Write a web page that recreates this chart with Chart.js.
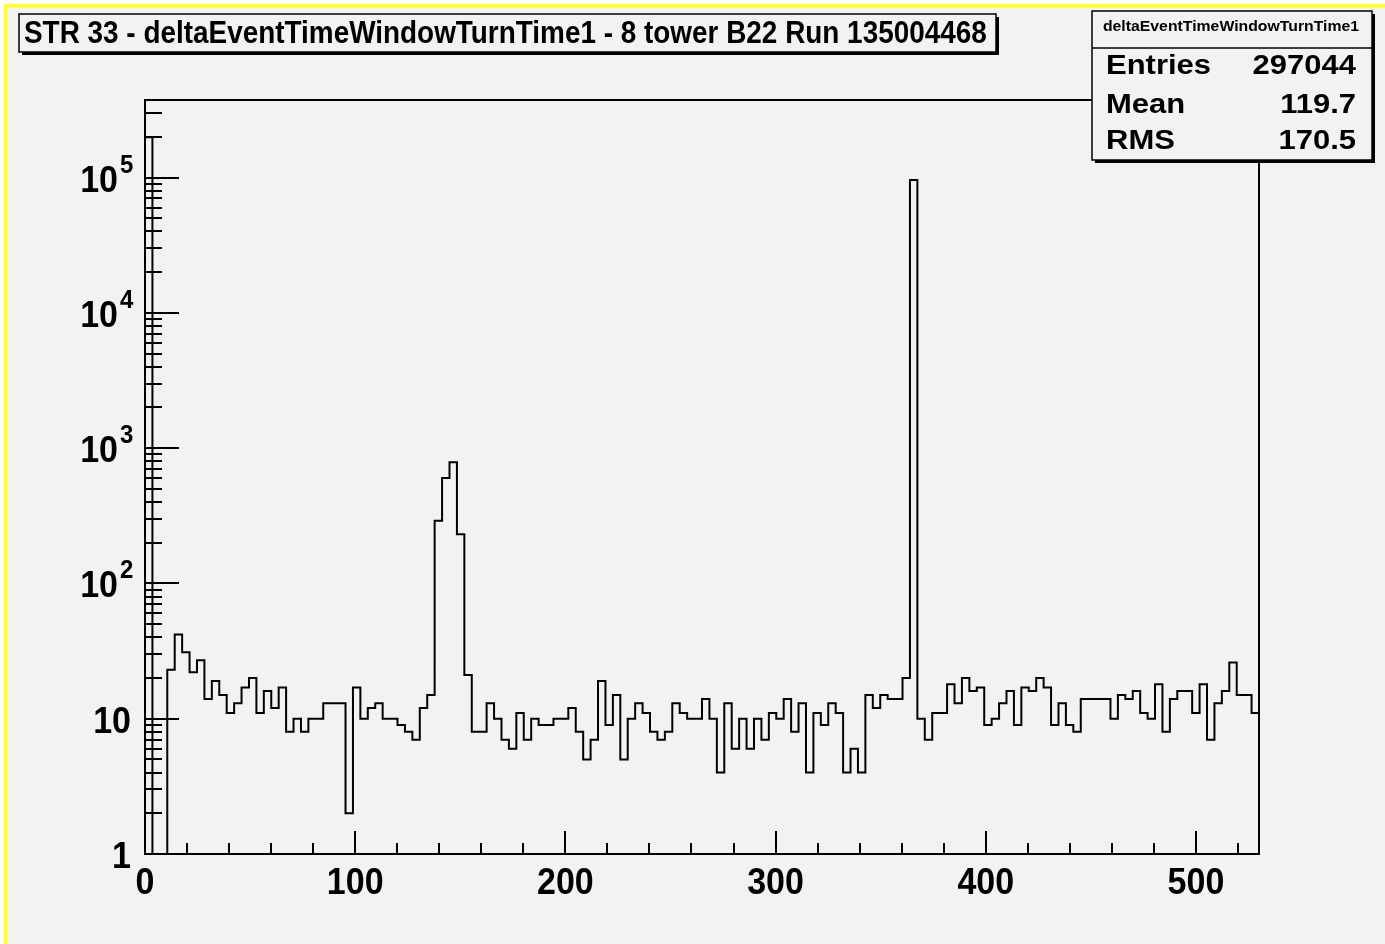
<!DOCTYPE html>
<html>
<head>
<meta charset="utf-8">
<style>
    html, body { margin: 0; padding: 0; background: #ffffff; }
    canvas { display: block; }
</style>
</head>
<body>
<canvas id="histo" width="1385" height="944"></canvas>

<script src="https://cdn.jsdelivr.net/npm/chart.js@4.4.0/dist/chart.umd.min.js"></script>
<script>
    // histogram data (150 bins from 0 to 530), counts
    const histName = 'deltaEventTimeWindowTurnTime1';
    const titleText = 'STR 33 - deltaEventTimeWindowTurnTime1 - 8 tower B22 Run 135004468';
    const xRange = [0, 530];
    const counts = [
        198000, 0, 0, 23, 42, 31, 22, 27, 14, 19,
        15, 11, 13, 17, 20, 11, 16, 12, 17, 8,
        10, 8, 10, 10, 13, 13, 13, 2, 17, 10,
        12, 13, 10, 10, 9, 8, 7, 12, 15, 290,
        600, 785, 231, 21, 8, 8, 13, 10, 7, 6,
        11, 7, 10, 9, 9, 10, 10, 12, 8, 5,
        7, 19, 9, 15, 5, 10, 13, 11, 8, 7,
        8, 13, 11, 10, 10, 14, 10, 4, 13, 6,
        10, 6, 10, 7, 11, 10, 14, 8, 13, 4,
        11, 9, 13, 11, 4, 6, 4, 15, 12, 15,
        14, 14, 20, 96000, 10, 7, 11, 11, 18, 13,
        20, 16, 17, 9, 10, 13, 16, 9, 17, 16,
        20, 17, 9, 13, 9, 8, 14, 14, 14, 14,
        10, 15, 14, 16, 11, 10, 18, 8, 14, 16,
        16, 11, 18, 7, 13, 16, 26, 15, 15, 11
    ];
    const yRange = [1, 3.74e5];
    const xMajorTicks = [0, 100, 200, 300, 400, 500];
    const yDecades = [1, 10, 100, 1000, 10000, 100000];
    const statLabels = ['Entries', 'Mean', 'RMS'];
    const statValues = ['297044', '119.7', '170.5'];

    const binWidth = (xRange[1] - xRange[0]) / counts.length;

    // left bin edges + closing point; empty bins sit on the axis floor like ROOT does
    const points = counts.map((c, i) => ({ x: xRange[0] + i * binWidth, y: c > 0 ? c : yRange[0] }));
    points.push({ x: xRange[1], y: counts[counts.length - 1] > 0 ? counts[counts.length - 1] : yRange[0] });

    const BG = '#f2f2f2';

    // text drawn with a small stretch, the original renders fonts a bit tall
    const drawText = (ctx, txt, x, y, font, align, sx, sy) => {
        ctx.save();
        ctx.translate(x, y);
        ctx.scale(sx, sy);
        ctx.font = font;
        ctx.textAlign = align;
        ctx.textBaseline = 'alphabetic';
        ctx.fillStyle = '#000';
        ctx.fillText(txt, 0, 0);
        ctx.restore();
    };

    const drawPave = (ctx, x, y, w, h) => {
        ctx.fillStyle = '#000';
        ctx.fillRect(x + 3, y + 3, w, h);
        ctx.fillStyle = BG;
        ctx.fillRect(x, y, w, h);
        ctx.strokeStyle = '#000';
        ctx.lineWidth = 1.5;
        ctx.strokeRect(x, y, w, h);
    };

    const rootFrame = {
        id: 'rootFrame',
        beforeDraw(chart) {
            const ctx = chart.ctx;
            ctx.save();
            ctx.fillStyle = '#ffffff';
            ctx.fillRect(0, 0, chart.width, chart.height);
            ctx.fillStyle = '#ffff33';
            ctx.fillRect(4, 4, chart.width - 4, 3);
            ctx.fillRect(4, 4, 3, chart.height - 4);
            ctx.fillStyle = BG;
            ctx.fillRect(7, 7, chart.width - 7, chart.height - 7);
            ctx.restore();
        },
        afterDraw(chart) {
            const ctx = chart.ctx;
            const area = chart.chartArea;
            const xs = chart.scales.x;
            const ys = chart.scales.y;
            ctx.save();

            // frame
            ctx.strokeStyle = '#000';
            ctx.lineWidth = 2;
            ctx.strokeRect(area.left, area.top, area.right - area.left, area.bottom - area.top);

            // x ticks, pointing into the frame
            ctx.lineWidth = 2;
            ctx.beginPath();
            for (let v = xRange[0]; v <= xRange[1]; v += 20) {
                const px = Math.round(xs.getPixelForValue(v));
                const len = (v % 100 === 0) ? 23 : 11;
                ctx.moveTo(px, area.bottom);
                ctx.lineTo(px, area.bottom - len);
            }
            // y ticks, log decades with 2..9 minors
            for (const d of yDecades) {
                for (let k = 1; k <= 9; k++) {
                    const v = d * k;
                    if (v > yRange[1]) break;
                    const py = Math.round(ys.getPixelForValue(v));
                    const len = (k === 1) ? 34 : 17;
                    ctx.moveTo(area.left, py);
                    ctx.lineTo(area.left + len, py);
                }
            }
            ctx.stroke();

            // x labels
            const axisFont = 'bold 34px "Liberation Sans", Arial, sans-serif';
            for (const v of xMajorTicks) {
                drawText(ctx, String(v), xs.getPixelForValue(v), area.bottom + 40, axisFont, 'center', 1, 1.1);
            }
            // y labels
            yDecades.forEach((d, i) => {
                const py = ys.getPixelForValue(d);
                if (i < 2) {
                    drawText(ctx, String(d), 131, py + 14, axisFont, 'right', 1, 1.1);
                } else {
                    drawText(ctx, '10', 118, py + 14, axisFont, 'right', 1, 1.1);
                    drawText(ctx, String(i), 120, py - 5, 'bold 24px "Liberation Sans", Arial, sans-serif', 'left', 1, 1.1);
                }
            });

            // title pave
            drawPave(ctx, 19, 14, 977, 38);
            ctx.font = 'bold 28px "Liberation Sans", Arial, sans-serif';
            const tw = ctx.measureText(titleText).width;
            const tSize = 28 * 963 / tw;
            drawText(ctx, titleText, 24, 43, 'bold ' + tSize.toFixed(2) + 'px "Liberation Sans", Arial, sans-serif', 'left', 1, 1.1);

            // stats pave
            drawPave(ctx, 1092, 11, 280, 149);
            ctx.lineWidth = 1.5;
            ctx.beginPath();
            ctx.moveTo(1092, 48);
            ctx.lineTo(1372, 48);
            ctx.stroke();
            drawText(ctx, histName, 1231, 31, 'bold 15.8px "Liberation Sans", Arial, sans-serif', 'center', 1, 0.88);
            const rows = [74, 113, 149];
            statLabels.forEach((lab, i) => {
                drawText(ctx, lab, 1106, rows[i], 'bold 31px "Liberation Sans", Arial, sans-serif', 'left', 1, 0.87);
                drawText(ctx, statValues[i], 1356, rows[i], 'bold 31px "Liberation Sans", Arial, sans-serif', 'right', 1, 0.87);
            });

            ctx.restore();
        }
    };

    const ctx = document.getElementById('histo').getContext('2d');
    const chart = new Chart(ctx, {
        type: 'line',
        data: {
            datasets: [{
                label: histName,
                data: points,
                stepped: 'before',
                borderColor: '#000000',
                borderWidth: 2,
                pointRadius: 0,
                fill: false,
                tension: 0
            }]
        },
        options: {
            responsive: false,
            animation: false,
            devicePixelRatio: 1,
            layout: { padding: { left: 145, right: 126, top: 100, bottom: 90 } },
            plugins: {
                legend: { display: false },
                tooltip: { enabled: false },
                title: { display: false }
            },
            scales: {
                x: { type: 'linear', min: xRange[0], max: xRange[1], display: false },
                y: { type: 'logarithmic', min: yRange[0], max: yRange[1], display: false }
            }
        },
        plugins: [rootFrame]
    });
</script>
</body>
</html>
